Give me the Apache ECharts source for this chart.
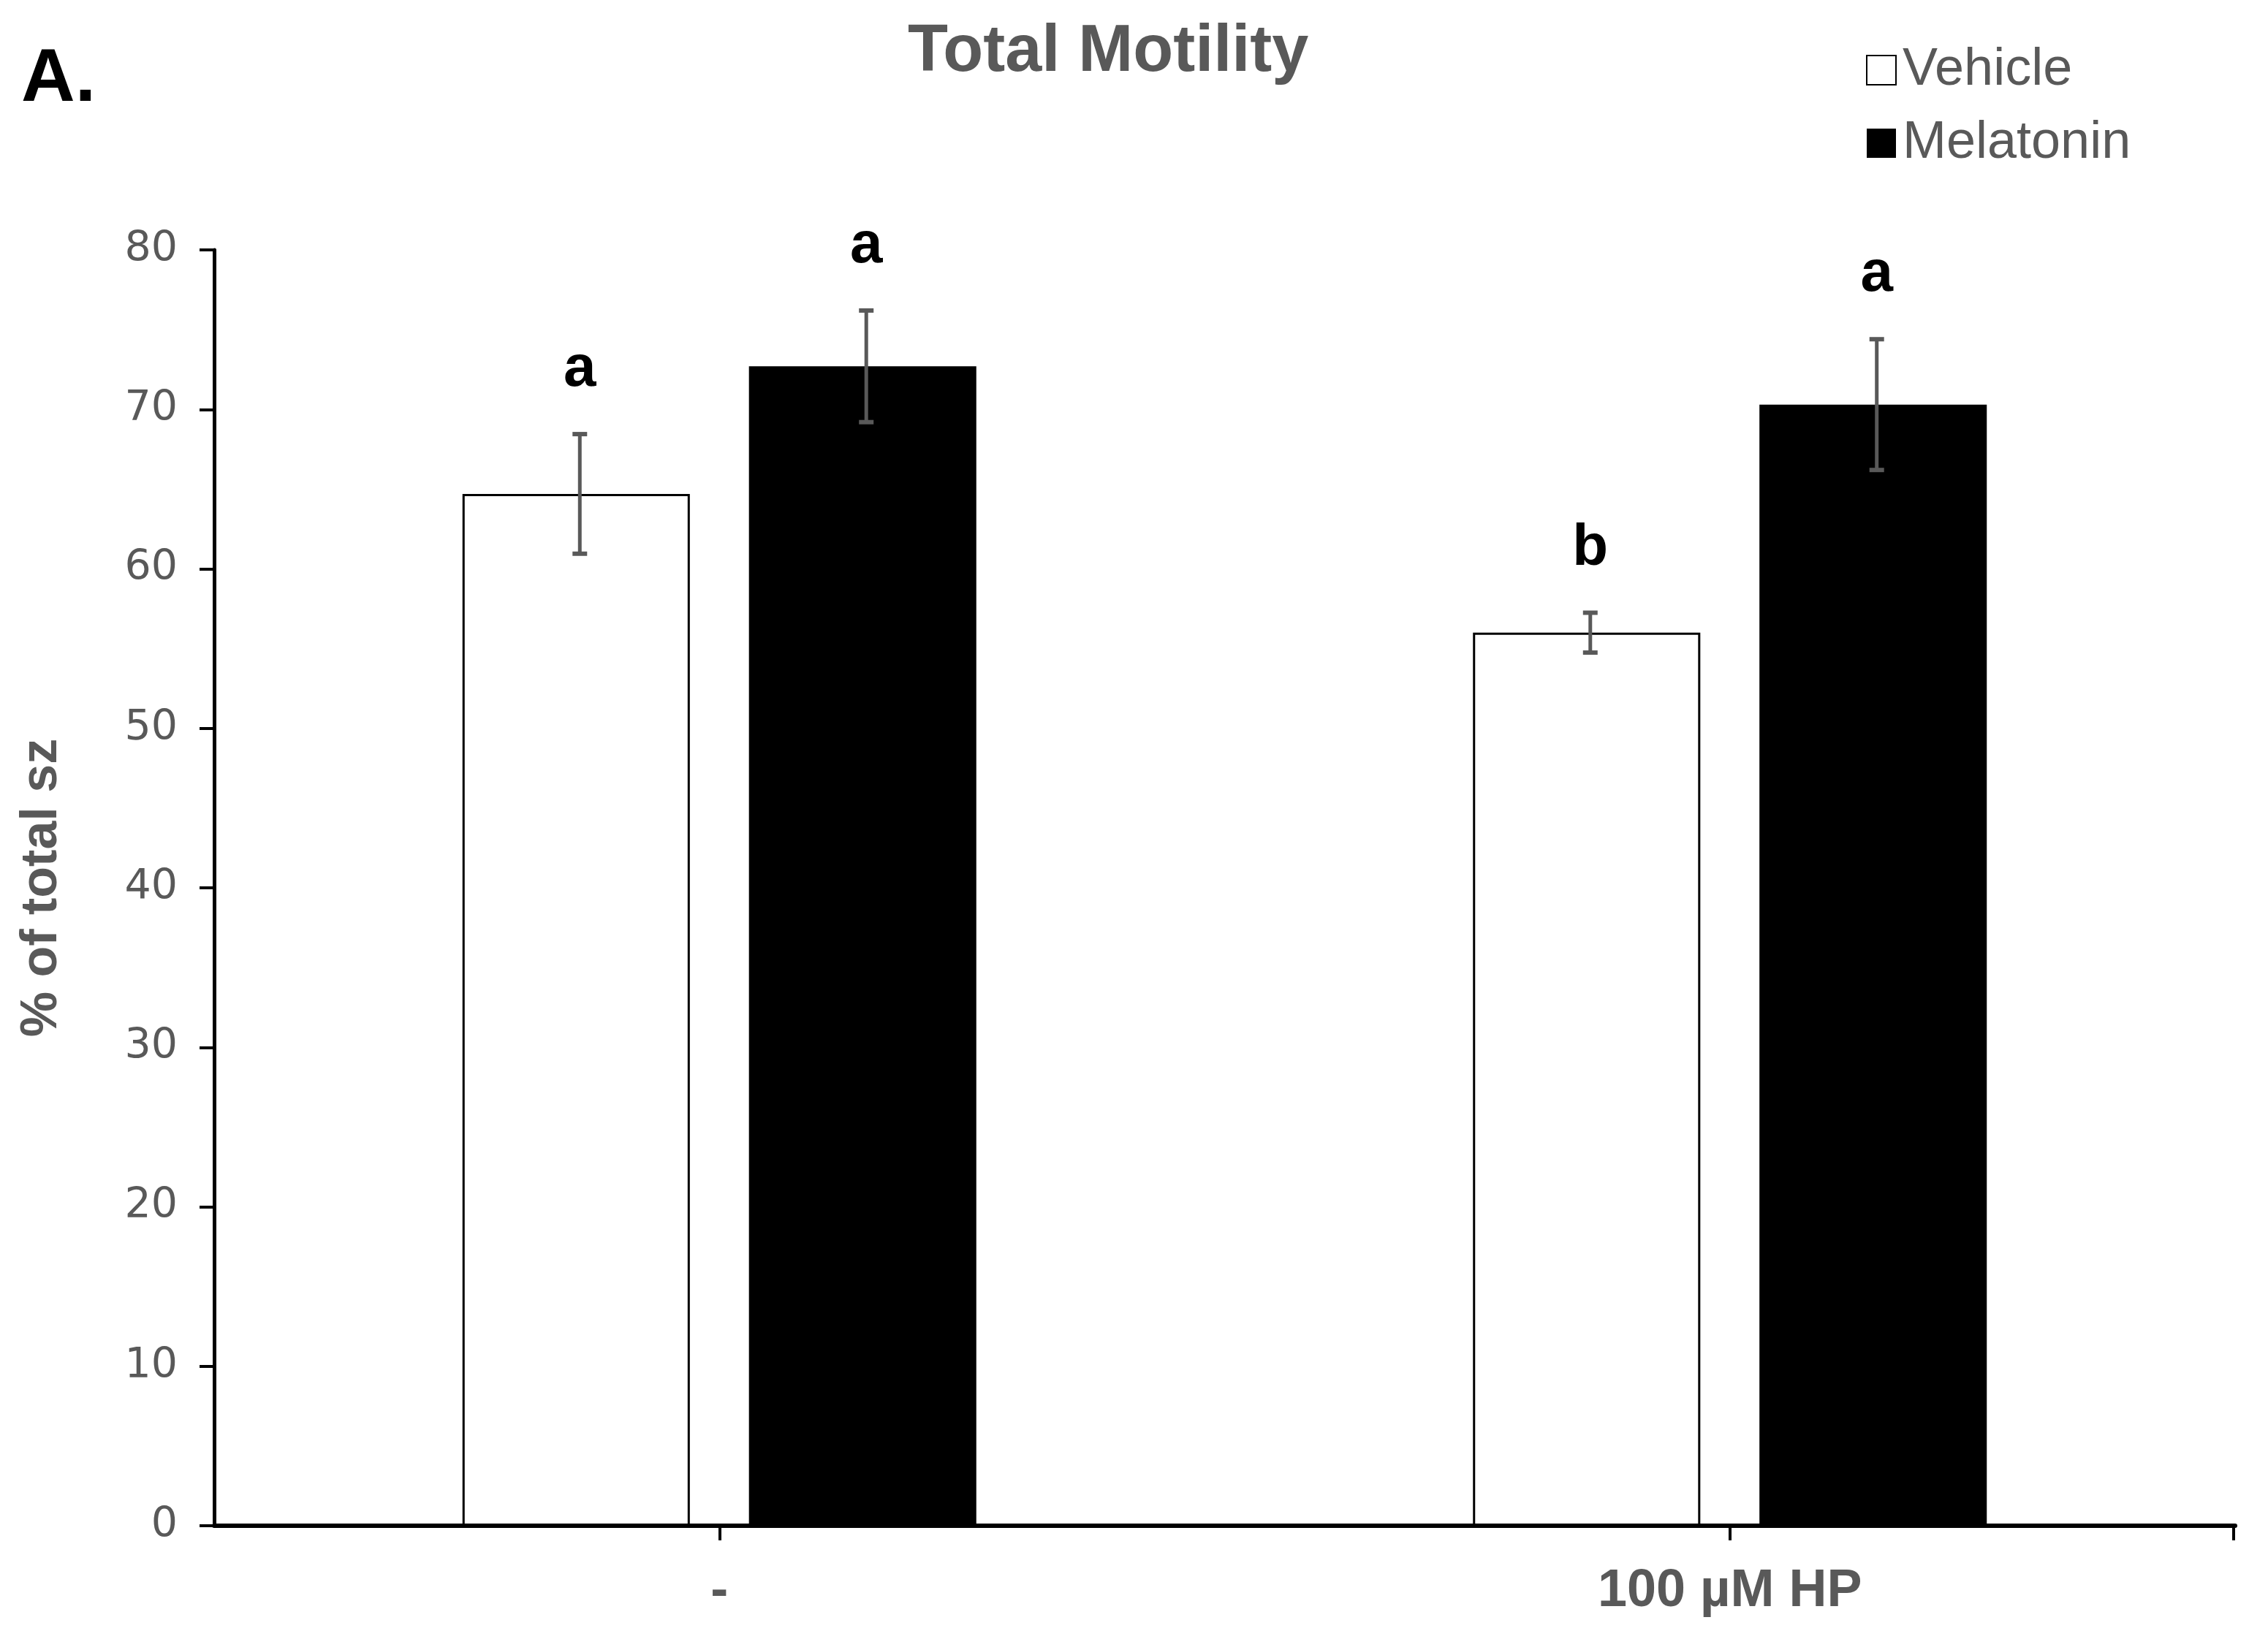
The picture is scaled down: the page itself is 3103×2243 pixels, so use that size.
<!DOCTYPE html>
<html>
<head>
<meta charset="utf-8">
<script src="https://cdn.jsdelivr.net/npm/echarts@6/dist/echarts.min.js"></script>
<style>
html,body{margin:0;padding:0;background:#fff;}
#chart{width:3103px;height:2243px;}
</style>
</head>
<body>
<div id="chart"></div>
<script>
var categories = ['-', '100 \u00b5M HP'];
var vehicle = [64.7, 56.0];
var melatonin = [72.7, 70.3];
var vehicleErr = [3.75, 1.25];
var melatoninErr = [3.5, 4.1];
var vehicleLetters = ['a', 'b'];
var melatoninLetters = ['a', 'a'];
var yTicks = [0, 10, 20, 30, 40, 50, 60, 70, 80];

var BAR_W = 0.225, BAR_GAP = 0.26;
var GRAY = '#595959';
var GRID = {left: 293, right: 45, top: 342, bottom: 155};

function errRender(sign) {
  return function (params, api) {
    var ci = api.value(0);
    var v = api.value(1), e = api.value(2);
    var hi = api.coord([ci, v + e]);
    var lo = api.coord([ci, v - e]);
    var cw = api.size([1, 0])[0];
    var off = sign * cw * BAR_W * (1 + BAR_GAP) / 2 + 5;
    var x = hi[0] + off;
    var st = {stroke: GRAY, lineWidth: 5};
    var cst = {stroke: GRAY, lineWidth: 6};
    return {
      type: 'group',
      children: [
        {type: 'line', shape: {x1: x, y1: hi[1], x2: x, y2: lo[1]}, style: st},
        {type: 'line', shape: {x1: x - 10, y1: hi[1], x2: x + 10, y2: hi[1]}, style: cst},
        {type: 'line', shape: {x1: x - 10, y1: lo[1], x2: x + 10, y2: lo[1]}, style: cst},
        {type: 'text', x: x, y: hi[1] - 48, style: {
          text: api.value(3), fill: '#000', font: 'bold 80px Arial, "Liberation Sans"',
          align: 'center', verticalAlign: 'bottom'}}
      ]
    };
  };
}

function errData(vals, errs, letters) {
  return vals.map(function (v, i) { return [i, v, errs[i], letters[i]]; });
}

var chart = echarts.init(document.getElementById('chart'));
var endX = 3103 - GRID.right - 2;
var axisY = 2243 - GRID.bottom;
chart.setOption({
  backgroundColor: '#fff',
  animation: false,
  title: [
    {text: 'Total Motility', left: 1237, top: 22,
     textStyle: {fontSize: 90, fontWeight: 'bold', color: GRAY, fontFamily: 'Arial, "Liberation Sans"'}},
    {text: 'A.', left: 24, top: 54,
     textStyle: {fontSize: 102, fontWeight: 'bold', color: '#000', fontFamily: 'Arial, "Liberation Sans"'}}
  ],
  legend: {
    orient: 'vertical', left: 2548, top: 55, itemGap: 28,
    itemWidth: 40, itemHeight: 40, icon: 'rect',
    textStyle: {fontSize: 72, color: GRAY, fontFamily: 'Arial, "Liberation Sans"', padding: [0, 0, 0, 4]},
    data: ['Vehicle', 'Melatonin']
  },
  grid: {left: GRID.left, right: GRID.right, top: GRID.top, bottom: GRID.bottom, containLabel: false},
  graphic: [
    {type: 'line', z: 5, shape: {x1: endX, y1: axisY, x2: endX, y2: axisY + 20},
     style: {stroke: '#000', lineWidth: 4}}
  ],
  xAxis: {
    type: 'category', data: categories,
    axisLine: {lineStyle: {color: '#000', width: 6}},
    axisTick: {show: true, alignWithLabel: true, length: 20, lineStyle: {color: '#000', width: 4}},
    axisLabel: {margin: 54, fontSize: 72, fontWeight: 'bold', color: GRAY, fontFamily: 'Arial, "Liberation Sans"'}
  },
  yAxis: {
    type: 'value', min: 0, max: 80, interval: 10,
    name: '% of total sz', nameLocation: 'middle', nameGap: 200, nameRotate: 90,
    nameTextStyle: {fontSize: 70, fontWeight: 'bold', color: GRAY, fontFamily: 'Arial, "Liberation Sans"'},
    axisLine: {show: true, lineStyle: {color: '#000', width: 5}},
    axisTick: {show: true, length: 20, lineStyle: {color: '#000', width: 4}},
    splitLine: {show: false},
    axisLabel: {margin: 50, fontSize: 57, color: GRAY, fontFamily: '"DejaVu Sans"',
      formatter: function (v) { return yTicks.indexOf(v) >= 0 ? String(v) : ''; }}
  },
  series: [
    {name: 'Vehicle', type: 'bar', data: vehicle, barWidth: (BAR_W * 100) + '%', barGap: (BAR_GAP * 100) + '%',
     itemStyle: {color: '#fff', borderColor: '#000', borderWidth: 3}},
    {name: 'Melatonin', type: 'bar', data: melatonin, barWidth: (BAR_W * 100) + '%', barGap: (BAR_GAP * 100) + '%',
     itemStyle: {color: '#000', borderColor: '#000', borderWidth: 0}},
    {type: 'custom', renderItem: errRender(-1), data: errData(vehicle, vehicleErr, vehicleLetters), z: 10,
     encode: {x: 0, y: 1}},
    {type: 'custom', renderItem: errRender(1), data: errData(melatonin, melatoninErr, melatoninLetters), z: 10,
     encode: {x: 0, y: 1}}
  ]
});
</script>
</body>
</html>
